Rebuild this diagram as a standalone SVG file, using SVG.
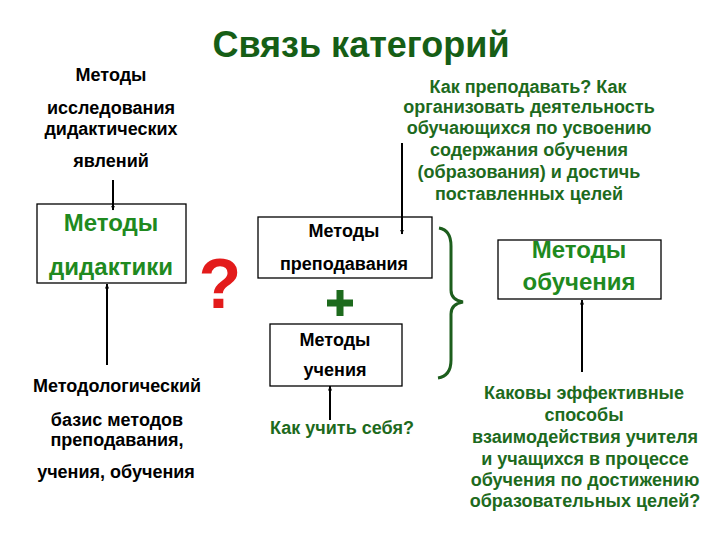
<svg xmlns="http://www.w3.org/2000/svg" width="720" height="540" viewBox="0 0 720 540">
<defs>
<marker id="ah" viewBox="0 0 10 10" refX="9" refY="5" markerWidth="5" markerHeight="5" orient="auto-start-reverse" markerUnits="userSpaceOnUse">
<path d="M0,1 L10,5 L0,9 z" fill="#000"/>
</marker>
<style>
text{font-family:"Liberation Sans",Arial,sans-serif;font-weight:bold;text-anchor:middle}
.t{font-size:18px;fill:#000}
.g{font-size:18px;fill:#1d6a1d}
.bg{font-size:24px;fill:#1f8a1f}
.box{fill:#fff;stroke:#000;stroke-width:1.3}
.ln{stroke:#000;stroke-width:2;fill:none}
</style>
</defs>
<rect width="720" height="540" fill="#fff"/>
<text x="361" y="57" style="font-size:36px;fill:#165e16">Связь категорий</text>

<g id="research">
<text class="t" x="111" y="81">Методы</text>
<text class="t" x="111" y="114">исследования</text>
<text class="t" x="111" y="135">дидактических</text>
<text class="t" x="111" y="167">явлений</text>
</g>

<g id="didactics">
<rect class="box" x="37" y="204" width="149" height="79"/>
<text class="bg" x="111" y="231">Методы</text>
<text class="bg" x="111" y="275">дидактики</text>
</g>

<g id="basis">
<text class="t" x="117" y="392">Методологический</text>
<text class="t" x="117" y="426">базис методов</text>
<text class="t" x="117" y="446">преподавания,</text>
<text class="t" x="116" y="478">учения, обучения</text>
</g>

<g id="question">
<text x="220" y="308" style="font-size:70px;fill:#e31b1b">?</text>
</g>

<g id="teaching">
<rect class="box" x="258" y="217" width="174" height="61"/>
<text class="t" x="344" y="237">Методы</text>
<text class="t" x="344" y="270">преподавания</text>
</g>

<g id="plus">
<path d="M340,290 V316 M327,303 H353" stroke="#1d6a1d" stroke-width="7" fill="none"/>
</g>

<g id="learning">
<rect class="box" x="270" y="324" width="132" height="62"/>
<text class="t" x="335" y="346">Методы</text>
<text class="t" x="335" y="376">учения</text>
</g>

<g id="howlearn">
<text class="g" x="342" y="434">Как учить себя?</text>
</g>

<g id="howteach">
<text class="g" x="528" y="93">Как преподавать? Как</text>
<text class="g" x="529" y="113">организовать деятельность</text>
<text class="g" x="529" y="134">обучающихся по усвоению</text>
<text class="g" x="529" y="156">содержания обучения</text>
<text class="g" x="529" y="178">(образования) и достичь</text>
<text class="g" x="529" y="200">поставленных целей</text>
</g>

<g id="brace">
<path d="M439,228 Q451,230 451,246 V290 Q451,300 463,302 Q451,304 451,314 V360 Q451,376 438,378" stroke="#1d5e1d" stroke-width="3" fill="none"/>
</g>

<g id="instruction">
<rect class="box" x="498" y="240" width="163" height="59"/>
<text class="bg" x="579" y="258">Методы</text>
<text class="bg" x="579" y="290">обучения</text>
</g>

<g id="effective">
<text class="g" x="584" y="399">Каковы эффективные</text>
<text class="g" x="584" y="421">способы</text>
<text class="g" x="585" y="443">взаимодействия учителя</text>
<text class="g" x="585" y="465">и учащихся в процессе</text>
<text class="g" x="585" y="486">обучения по достижению</text>
<text class="g" x="585" y="507">образовательных целей?</text>
</g>

<g id="connectors">
<line class="ln" x1="113" y1="180" x2="113" y2="210" marker-end="url(#ah)"/>
<line class="ln" x1="107" y1="365" x2="107" y2="284" marker-end="url(#ah)"/>
<line class="ln" x1="402" y1="143" x2="402" y2="234" marker-end="url(#ah)"/>
<line class="ln" x1="330" y1="420" x2="330" y2="386" marker-end="url(#ah)"/>
<line class="ln" x1="582" y1="372" x2="582" y2="300" marker-end="url(#ah)"/>
</g>
</svg>
